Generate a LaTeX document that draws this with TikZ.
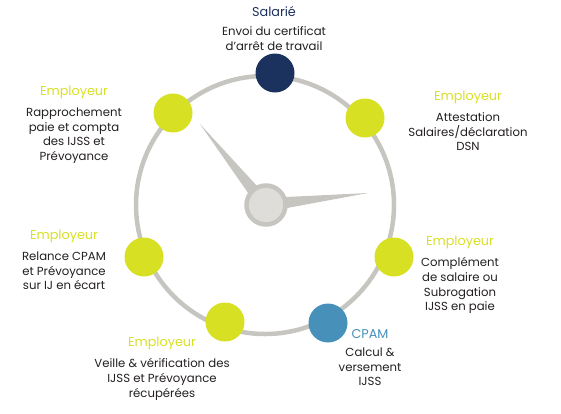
\documentclass[tikz,border=0pt]{standalone}
\usepackage{fontspec}
\setmainfont{Poppins}
\usepackage{xcolor}
\usetikzlibrary{positioning, calc}
\definecolor{lime}{HTML}{D8E024}
\definecolor{navy}{HTML}{1C325E}
\definecolor{cpamblue}{HTML}{4690B9}
\definecolor{ringgray}{HTML}{C6C5C0}
\definecolor{hublight}{HTML}{DEDDDA}
\definecolor{ink}{HTML}{231F20}

\begin{document}
\begin{tikzpicture}[
    x=1pt, y=-1pt,
    ring/.style={draw=ringgray, line width=4.5pt},
    stage/.style={circle, minimum size=39pt, inner sep=0pt},
    hub/.style={circle, draw=ringgray, fill=hublight, line width=4.5pt, minimum size=39pt, inner sep=0pt},
    hand/.style={fill=ringgray},
    title/.style={font=\fontsize{12.8}{14}\selectfont, inner sep=0pt},
    desc/.style={font=\fontsize{11.7}{14.6}\selectfont, text=ink, align=center, inner sep=0pt, below=9pt of #1}
]
\useasboundingbox (0,0) rectangle (561,413);

% Dial
\coordinate (dial) at (265,205);
\draw[ring] (dial) circle[radius=129pt];

% Hands
\coordinate (hourtip) at (200,124);
\coordinate (minutetip) at (368,193);
\fill[hand] ($(dial)!7pt!90:(hourtip)$) -- (hourtip) -- ($(dial)!7pt!-90:(hourtip)$) -- cycle;
\fill[hand] ($(dial)!7pt!90:(minutetip)$) -- (minutetip) -- ($(dial)!7pt!-90:(minutetip)$) -- cycle;
\node[hub] (hub) at (266,205) {};

% Stages round the dial
\node[stage, fill=navy] (salarie) at (275,73) {};
\node[stage, fill=lime] (rapprochement) at (173,113) {};
\node[stage, fill=lime] (attestation) at (365,118) {};
\node[stage, fill=lime] (relance) at (144,257) {};
\node[stage, fill=lime] (complement) at (394,257) {};
\node[stage, fill=lime] (veille) at (225,322) {};
\node[stage, fill=cpamblue] (cpam) at (328,323) {};

% Labels
\node[title, text=navy] (salarieT) at (274,12) {Salarié};
\node[desc=salarieT] {Envoi du certificat\\d’arrêt de travail};

\node[title, text=lime] (rapprochementT) at (74,92) {Employeur};
\node[desc=rapprochementT] {Rapprochement\\paie et compta\\des IJSS et\\Prévoyance};

\node[title, text=lime] (attestationT) at (468,97) {Employeur};
\node[desc=attestationT] {Attestation\\Salaires/déclaration\\DSN};

\node[title, text=lime] (relanceT) at (64,236) {Employeur};
\node[desc=relanceT] {Relance CPAM\\et Prévoyance\\sur IJ en écart};

\node[title, text=lime] (complementT) at (460,242) {Employeur};
\node[desc=complementT] {Complément\\de salaire ou\\Subrogation\\IJSS en paie};

\node[title, text=lime] (veilleT) at (162,343) {Employeur};
\node[desc=veilleT] {Veille \& vérification des\\IJSS et Prévoyance\\récupérées};

\node[title, text=cpamblue] (cpamT) at (370,334) {CPAM};
\node[desc=cpamT] {Calcul \&\\versement\\IJSS};

\end{tikzpicture}
\end{document}
